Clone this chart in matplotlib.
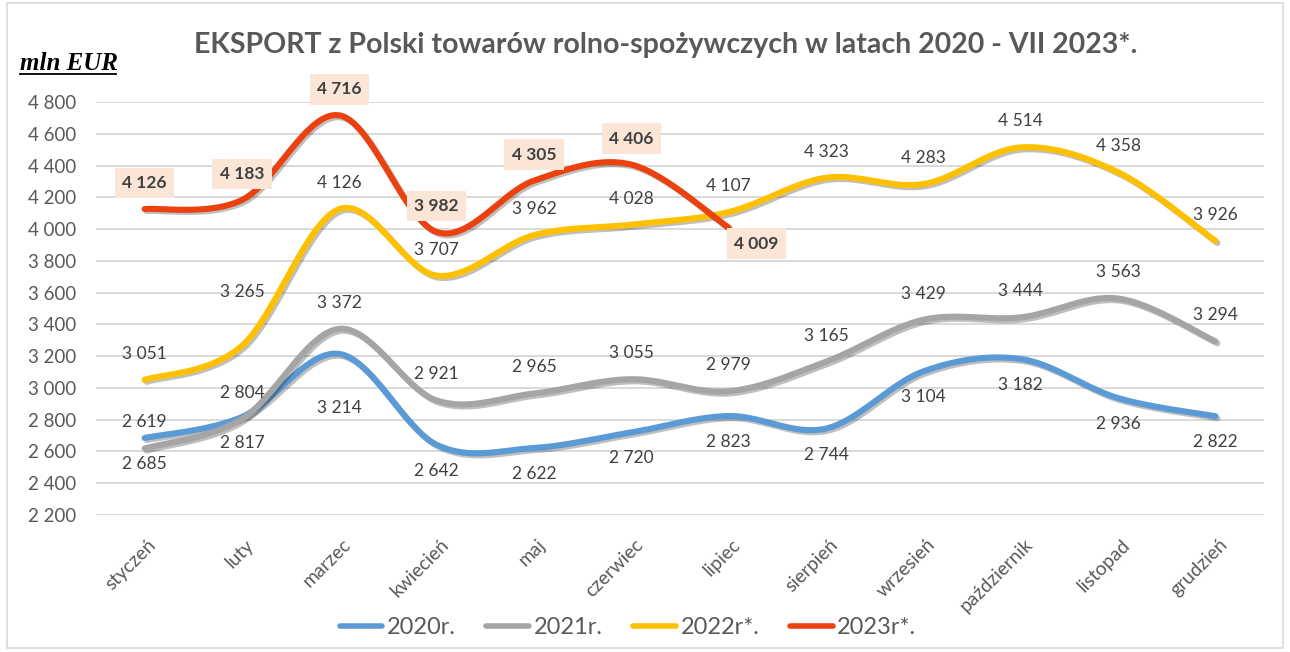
import numpy as np
import matplotlib
matplotlib.use("Agg")
import matplotlib.pyplot as plt
from matplotlib.lines import Line2D
from matplotlib.patches import Rectangle
import matplotlib.patheffects as pe

# ---------------- data ----------------
months = ["styczeń", "luty", "marzec", "kwiecień", "maj", "czerwiec", "lipiec",
          "sierpień", "wrzesień", "październik", "listopad", "grudzień"]
s2020 = [2685, 2817, 3214, 2642, 2622, 2720, 2823, 2744, 3104, 3182, 2936, 2822]
s2021 = [2619, 2804, 3372, 2921, 2965, 3055, 2979, 3165, 3429, 3444, 3563, 3294]
s2022 = [3051, 3265, 4126, 3707, 3962, 4028, 4107, 4323, 4283, 4514, 4358, 3926]
s2023 = [4126, 4183, 4716, 3982, 4305, 4406, 4009]
series_names = ["2020r.", "2021r.", "2022r*.", "2023r*."]
yticks = list(range(2200, 4801, 200))

title = "EKSPORT z Polski towarów rolno-spożywczych w latach 2020 - VII 2023*."
unit = "mln EUR"

# ---------------- style ----------------
W, H = 1290, 652
DPI = 100
colors = ["#5B9BD5", "#A5A5A5", "#FFC000", "#EB410F"]
txt_gray = "#595959"
lab_gray = "#404040"
FONT = "Lato"
PX = 72.0 / DPI  # points per pixel

def fmt(v):
    return f"{v:,}".replace(",", " ")

def smooth(xs, ys, n=40):
    P = np.column_stack([xs, ys]).astype(float)
    m = len(P)
    ext = np.vstack([P[0], P, P[-1]])
    out = [P[0]]
    t = np.linspace(0, 1, n)[1:, None]
    for i in range(m - 1):
        p0, p3 = P[i], P[i + 1]
        c1 = p0 + (ext[i + 2] - ext[i]) / 6.0
        c2 = p3 - (ext[i + 3] - ext[i + 1]) / 6.0
        seg = ((1 - t) ** 3) * p0 + 3 * ((1 - t) ** 2) * t * c1 + 3 * (1 - t) * t ** 2 * c2 + t ** 3 * p3
        out.extend(seg)
    out = np.array(out)
    return out[:, 0], out[:, 1]

fig = plt.figure(figsize=(W / DPI, H / DPI), dpi=DPI)
fig.patch.set_facecolor("white")

# frame around chart
fig.add_artist(Rectangle((7 / W, 1 - 648 / H), (1283 - 7) / W, (648 - 3) / H,
                         transform=fig.transFigure, fill=False,
                         edgecolor="#D9D9D9", lw=1.2))

ax = fig.add_axes([96 / W, 1 - 515 / H, (1264 - 96) / W, 413 / H])
ax.set_xlim(-0.5, 11.5)
ax.set_ylim(2200, 4800)
for s in ax.spines.values():
    s.set_visible(False)
ax.set_yticks(yticks)
ax.set_yticklabels([fmt(v) for v in yticks], fontsize=13.5, color=txt_gray, family=FONT)
ax.tick_params(axis="y", length=0, pad=14)
ax.grid(axis="y", color="#D9D9D9", lw=1.4)
ax.set_axisbelow(True)
ax.set_xticks(range(len(months)))
ax.set_xticklabels([])
ax.tick_params(axis="x", length=0)

# category labels rotated
for i, m in enumerate(months):
    ax.annotate(m, xy=(i, 2200), xycoords="data", xytext=(3 * PX, -21 * PX),
                textcoords="offset points", rotation=45, rotation_mode="anchor",
                ha="right", va="top", fontsize=13.8, color=txt_gray, family=FONT,
                annotation_clip=False)

all_series = [s2020, s2021, s2022, s2023]
for k, (vals, c) in enumerate(zip(all_series, colors)):
    xs = np.arange(len(vals))
    sx, sy = smooth(xs, vals)
    ax.plot(sx, sy, color=c, lw=4.4, solid_capstyle="round", zorder=3 + k,
            path_effects=[pe.SimpleLineShadow(offset=(1.5, -1.5), shadow_color="black", alpha=0.25),
                          pe.Normal()])

# label offsets (pixels, screen: +y up)
off2020 = [(0, -26)] * 12
off2020 = list(off2020); off2020[2] = (0, -54)
off2021 = [(0, 26)] * 12
off2022 = [(0, 26)] * 12
off2022 = list(off2022); off2022[1] = (0, 54)
off2023 = [(0, 26)] * 7
off2023 = list(off2023); off2023[6] = (28, -16)

for vals, offs in [(s2020, off2020), (s2021, off2021), (s2022, off2022)]:
    for i, v in enumerate(vals):
        ax.annotate(fmt(v), xy=(i, v), xytext=(offs[i][0] * PX, offs[i][1] * PX),
                    textcoords="offset points", ha="center", va="center",
                    fontsize=12.5, color=lab_gray, family=FONT, zorder=10,
                    annotation_clip=False)
for i, v in enumerate(s2023):
    ax.annotate(fmt(v), xy=(i, v), xytext=(off2023[i][0] * PX, off2023[i][1] * PX),
                textcoords="offset points", ha="center", va="center",
                fontsize=12.5, fontweight="bold", color=lab_gray, family=FONT, zorder=10,
                annotation_clip=False,
                bbox=dict(boxstyle="square,pad=0.42", fc="#FBE5D6", ec="none"))

# title and unit
fig.text(666 / W, 1 - 45 / H, title, ha="center", va="center", fontsize=20.5,
         fontweight="bold", color=txt_gray, family=FONT)
fig.text(20 / W, 1 - 63 / H, unit, ha="left", va="center", fontsize=18,
         fontweight="bold", fontstyle="italic", family="Liberation Serif", color="black")
fig.add_artist(Line2D([20 / W, 116 / W], [1 - 74 / H, 1 - 74 / H], transform=fig.transFigure,
                      color="black", lw=1.3))

# legend
handles = [Line2D([], [], color=c, lw=4, solid_capstyle="round") for c in colors]
fig.legend(handles, series_names, loc="center", bbox_to_anchor=(628 / W, 1 - 628 / H),
           ncol=4, frameon=False, handlelength=1.8, handletextpad=0.2, columnspacing=1.3,
           prop={"family": FONT, "size": 17}, labelcolor=txt_gray)

fig.savefig("out.png", dpi=DPI)
